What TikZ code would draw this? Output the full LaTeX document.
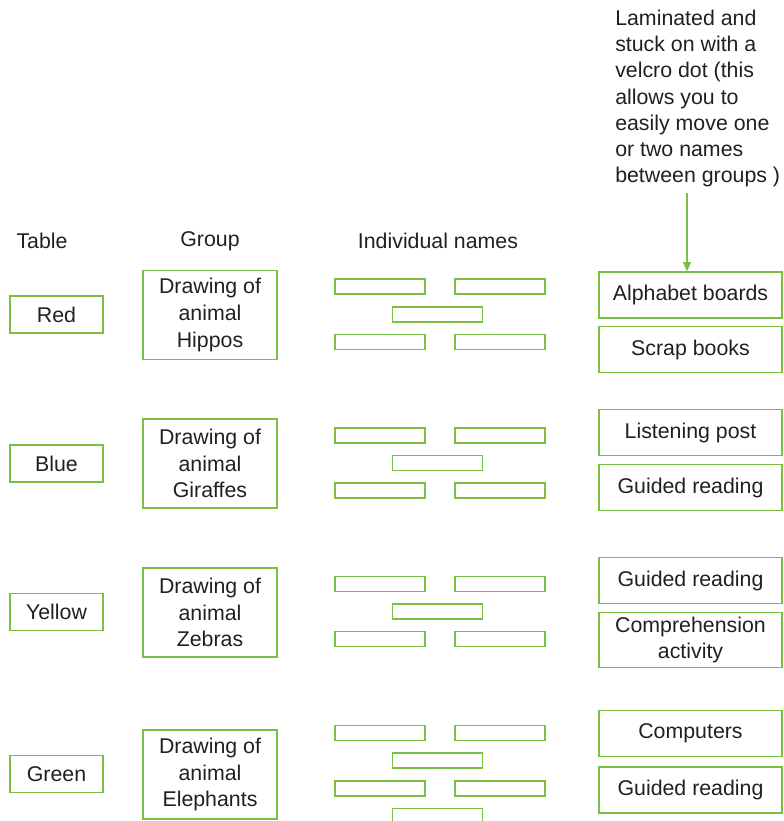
\documentclass[tikz,border=0pt]{standalone}
\usepackage{fontspec}
\setmainfont{Liberation Sans}
\usetikzlibrary{shapes, arrows.meta, positioning}
\definecolor{leaf}{RGB}{122,193,66}
\definecolor{ink}{RGB}{35,31,32}
\tikzstyle{tablebox} = [rectangle, draw=leaf, line width=1pt, minimum width=69.75pt, minimum height=27.75pt, inner sep=0pt, text centered]
\tikzstyle{groupbox} = [rectangle, draw=leaf, line width=1pt, minimum width=100.5pt, minimum height=66.75pt, inner sep=0pt, align=center]
\tikzstyle{slot} = [rectangle, draw=leaf, line width=1pt, minimum width=67.5pt, minimum height=11.25pt, inner sep=0pt]
\tikzstyle{taskbox} = [rectangle, draw=leaf, line width=1pt, minimum width=137.25pt, minimum height=34.5pt, inner sep=0pt, align=center]
\tikzstyle{head} = [inner sep=0pt]
\tikzstyle{line} = [line width=1pt, draw=leaf, -, >={Triangle[length=7pt,width=6pt]}]

\begin{document}
\begin{tikzpicture}[x=0.75pt, y=-0.75pt, text=ink, font=\fontsize{16}{20}\selectfont]
\useasboundingbox (0,0) rectangle (783,821);

% headings
\node (thead) [head] at (42,241) {Table};
\node (ghead) [head] at (210,241) {Group};
\node (nhead) [head] at (438,241) {Individual names};

% tables
\node (red) [tablebox] at (56.5,314.5) {Red};
\node (blue) [tablebox] at (56.5,463.5) {Blue};
\node (yellow) [tablebox] at (56.5,612) {Yellow};
\node (green) [tablebox] at (56.5,774) {Green};

% groups
\node (hippos) [groupbox] at (210,315) {Drawing of\\animal\\Hippos};
\node (giraffes) [groupbox] at (210,463.5) {Drawing of\\animal\\Giraffes};
\node (zebras) [groupbox] at (210,612.5) {Drawing of\\animal\\Zebras};
\node (elephants) [groupbox] at (210,774.5) {Drawing of\\animal\\Elephants};

% name slots
\node (redA) [slot] at (380,286.5) {};
\node (redB) [slot] at (500,286.5) {};
\node (redC) [slot] at (437.5,314.5) {};
\node (redD) [slot] at (380,342) {};
\node (redE) [slot] at (500,342) {};

\node (blueA) [slot] at (380,435.5) {};
\node (blueB) [slot] at (500,435.5) {};
\node (blueC) [slot] at (437.5,463) {};
\node (blueD) [slot] at (380,490.5) {};
\node (blueE) [slot] at (500,490.5) {};

\node (yellowA) [slot] at (380,584) {};
\node (yellowB) [slot] at (500,584) {};
\node (yellowC) [slot] at (437.5,611.5) {};
\node (yellowD) [slot] at (380,639) {};
\node (yellowE) [slot] at (500,639) {};

\node (greenA) [slot] at (380,733) {};
\node (greenB) [slot] at (500,733) {};
\node (greenC) [slot] at (437.5,760.5) {};
\node (greenD) [slot] at (380,788.5) {};
\node (greenE) [slot] at (500,788.5) {};
\node (greenF) [slot] at (437.5,816) {};

% activities
\node (alpha) [taskbox] at (690.5,295) {Alphabet boards};
\node (scrap) [taskbox] at (690.5,349.5) {Scrap books};
\node (listen) [taskbox] at (690.5,432.5) {Listening post};
\node (guideA) [taskbox] at (690.5,487.5) {Guided reading};
\node (guideB) [taskbox] at (690.5,580.5) {Guided reading};
\node (compre) [taskbox, minimum height=41.25pt] at (690.5,640) {Comprehension\\activity};
\node (comput) [taskbox] at (690.5,733.5) {Computers};
\node (guideC) [taskbox] at (690.5,790) {Guided reading};

% note
\node (note) [head, anchor=north west, align=left, font=\fontsize{16}{19.6}\selectfont] at (615,10) {Laminated and\\stuck on with a\\velcro dot (this\\allows you to\\easily move one\\or two names\\between groups )};

\draw [line,->, shorten <=4pt] (note.south -| 687,0) -- (alpha.north -| 687,0);
\end{tikzpicture}
\end{document}
